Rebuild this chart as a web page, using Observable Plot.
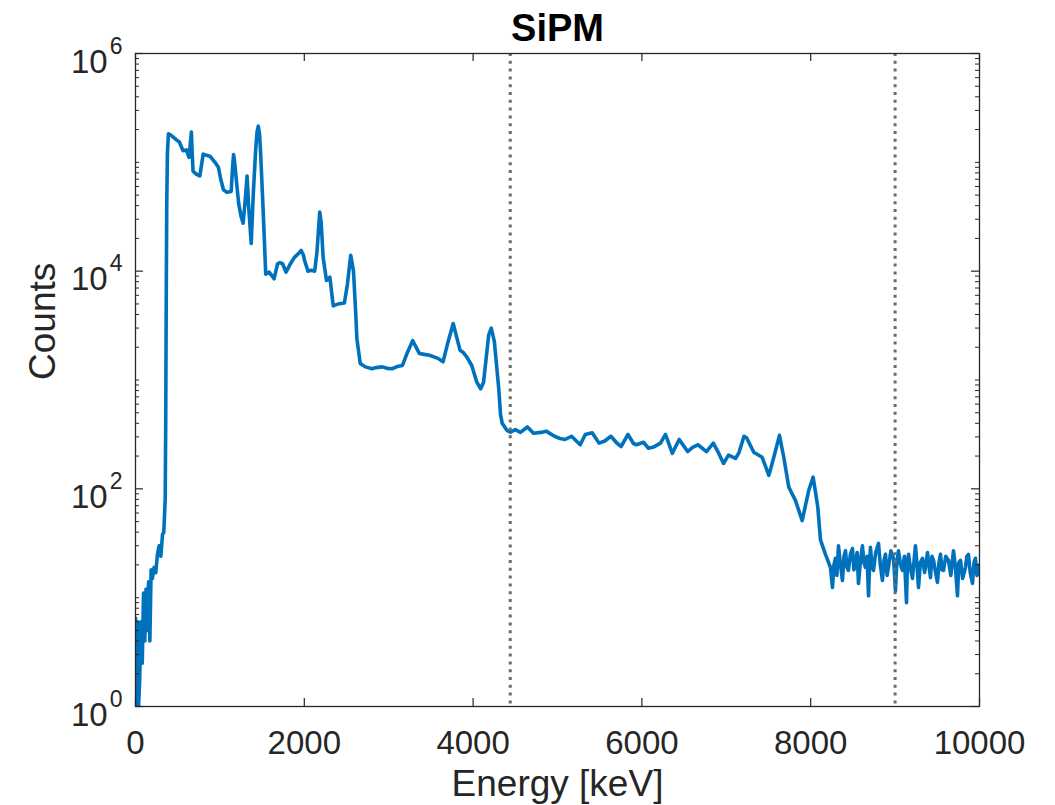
<!DOCTYPE html>
<html><head><meta charset="utf-8">
<script src="https://cdn.jsdelivr.net/npm/d3@7"></script>
<script src="https://cdn.jsdelivr.net/npm/@observablehq/plot@0.6"></script>
<style>
html,body{margin:0;padding:0;background:#fff;}
#chart{width:1055px;height:805px;overflow:hidden;}
</style></head><body><div id="chart"></div>
<script>
// ---- data (energy in keV, counts) ----
// rise region
const riseEnergy = [0,12,24,36,50,65,80,95,110,125,140,155,170,185,200,220,240,260,280,300,320,335,345,352,358,364,370,378];
const riseCounts = [6.5,1,6,1,1.8,6,2.5,11,4,12,5,14,4,18,15,19,17,25,30,24,38,40,60,80,400,5000,40000,120000];
// peak region
const peakEnergy = [390,422,482,521,562,602,634,650,662,672,682,720,762,802,840,882,942,982,1010,1042,1083,1134,1150,1162,1175,1190,1222,1250,1275,1300,1322,1340,1371,1395,1422,1440,1455,1470,1482,1510,1543,1583,1620,1642,1683,1710,1743,1783,1830,1883,1930,1963,1990,2003,2043,2080,2123,2150,2183,2200,2223,2263,2303,2343,2403,2475,2510,2550,2583,2610,2623,2663,2724,2803,2850,2924,2980,3044,3100,3163,3223,3284,3364,3420,3483,3584,3644,3704,3764,3845,3880,3924,3984,4044,4090,4124,4185,4215,4252,4304,4325,4345];
const peakCounts = [183000,177000,162000,153000,128000,130000,111000,150000,190000,120000,83000,78000,75000,119000,116000,114000,100000,90000,70000,56000,53000,54000,90000,118000,100000,75000,42000,32000,27600,45000,75000,40000,18000,50000,124000,190000,215000,180000,124000,40000,9400,9800,9000,8500,11700,12000,11700,9800,11500,13400,14500,15500,14000,12600,10000,10200,10000,15000,35000,28000,13400,8200,8800,4800,5000,5100,7500,14000,10000,4000,2400,1420,1320,1270,1300,1320,1280,1270,1330,1360,1800,2300,1750,1720,1690,1580,1470,2250,3300,1880,1800,1630,1360,955,830,955,2600,3000,2250,829,480,400];
// plateau region
const plateauEnergy = [4400,4443,4500,4561,4644,4716,4804,4865,4964,5030,5087,5166,5269,5329,5411,5492,5560,5633,5700,5755,5835,5900,5936,6019,6078,6137,6220,6279,6361,6442,6542,6600,6664,6765,6846,6900,6967,7026,7109,7150,7210,7240,7326,7425,7504,7563,7630,7681,7740,7820,7899,7977,8029,8084,8116,8175,8234];
const plateauCounts = [345,331,350,330,370,324,330,339,304,290,284,304,254,316,327,263,275,304,265,245,316,261,254,268,236,242,263,316,212,284,220,240,254,220,263,220,171,204,190,215,304,295,217,195,133,195,310,195,104,78,51,97,128,68,34,25,19];
// background tail
const tailEnergy = [8258,8275,8294,8310,8329,8350,8376,8395,8412,8430,8447,8470,8495,8512,8531,8550,8566,8590,8613,8630,8649,8668,8685,8700,8708,8725,8744,8770,8803,8825,8850,8868,8886,8905,8921,8950,8981,8992,9004,9020,9040,9065,9088,9110,9135,9145,9159,9180,9206,9225,9241,9260,9277,9300,9324,9350,9384,9400,9419,9437,9455,9480,9502,9520,9538,9555,9573,9600,9633,9660,9692,9715,9739,9755,9775,9800,9834,9850,9869,9890,9917,9935,9952,9970,9988,10000];
const tailCounts = [12.4,20,23,16,30,21,14.4,24,27,19,17.8,25,28.3,18,20.6,26,13.5,22,30,21,19,24,10.4,22,29,20,17.8,26,31.5,20,14.4,22,25,16,19,27,23,17,11.6,21,27,20,17.8,24,9,20,25,19,15,22,30,20,12.4,21,23,17,26,20,15.3,24,22,17,13.8,21,25,18,17.8,24,22,16,27,19,10.4,21,22,15,19,24,25,17,13.5,21,23,16,17.8,20];

const cutEnergies = [4440, 9000];
const xTicks = [0, 2000, 4000, 6000, 8000, 10000];
const yTicks = [1, 100, 10000, 1000000];
const titleText = "SiPM";
const xLabel = "Energy [keV]";
const yLabel = "Counts";

// ---- build table ----
const data = [];
[[riseEnergy, riseCounts], [peakEnergy, peakCounts], [plateauEnergy, plateauCounts], [tailEnergy, tailCounts]]
  .forEach(([E, C]) => E.forEach((e, i) => data.push({energy: e, counts: C[i]})));

const minorTicks = [];
for (let k = 0; k < 6; k++) for (let m = 2; m <= 10; m++) {
  const v = m * Math.pow(10, k);
  if (!yTicks.includes(v)) minorTicks.push(v);
}

const ink = "#262626";
const W = 1055, H = 805, mL = 135, mR = 76, mT = 53, mB = 99;
const fw = W - mL - mR, fh = H - mT - mB;

const chart = Plot.plot({
  width: W, height: H,
  marginLeft: mL, marginRight: mR, marginTop: mT, marginBottom: mB,
  style: {fontFamily: "'Liberation Sans', Arial, Helvetica, sans-serif", color: ink, background: "#fff", overflow: "visible"},
  x: {domain: [0, 10000]},
  y: {type: "log", domain: [1, 1e6]},
  marks: [
    Plot.line(data, {x: "energy", y: "counts", stroke: "#0072BD", strokeWidth: 3.6, strokeLinejoin: "round", clip: true}),
    Plot.ruleX(cutEnergies, {stroke: "#6b6b6b", strokeWidth: 3, strokeDasharray: "3 4.8"}),
    Plot.frame({stroke: ink, strokeWidth: 1.3}),
    Plot.tickX(xTicks, {stroke: ink, strokeWidth: 1.2, insetTop: fh - 8}),
    Plot.tickX(xTicks, {stroke: ink, strokeWidth: 1.2, insetBottom: fh - 8}),
    Plot.tickY(yTicks, {stroke: ink, strokeWidth: 1.2, insetRight: fw - 8}),
    Plot.tickY(yTicks, {stroke: ink, strokeWidth: 1.2, insetLeft: fw - 8}),
    Plot.tickY(minorTicks, {stroke: ink, strokeWidth: 1, insetRight: fw - 4}),
    Plot.tickY(minorTicks, {stroke: ink, strokeWidth: 1, insetLeft: fw - 4}),
    Plot.axisX(xTicks, {tickSize: 0, tickPadding: 24, fontSize: 33, label: null, tickFormat: d => String(d), fill: ink}),
    Plot.axisY(yTicks, {tickSize: 0, tickPadding: 13, fontSize: 33, label: null, fill: ink,
      tickFormat: d => String(Math.round(Math.log10(d)))}),
    Plot.text([titleText], {text: d => d, frameAnchor: "top", dy: -13, lineAnchor: "bottom", fontSize: 38, fontWeight: "bold", fill: "#000"}),
    Plot.text([xLabel], {text: d => d, frameAnchor: "bottom", dy: 89, lineAnchor: "bottom", fontSize: 37, fill: ink}),
    Plot.text([yLabel], {text: d => d, frameAnchor: "left", dx: -81, rotate: -90, lineAnchor: "bottom", fontSize: 37, fill: ink})
  ]
});

// superscript exponents for the log tick labels
d3.select(chart).selectAll('g[aria-label="y-axis tick label"] text').each(function () {
  const exp = this.textContent;
  const t = d3.select(this);
  t.text(null).attr("y", "0.58em");
  t.append("tspan").text("10");
  t.append("tspan").attr("font-size", 23).attr("dx", 2).attr("dy", -19).text(exp);
});

document.getElementById("chart").appendChild(chart);
</script>
</body></html>
